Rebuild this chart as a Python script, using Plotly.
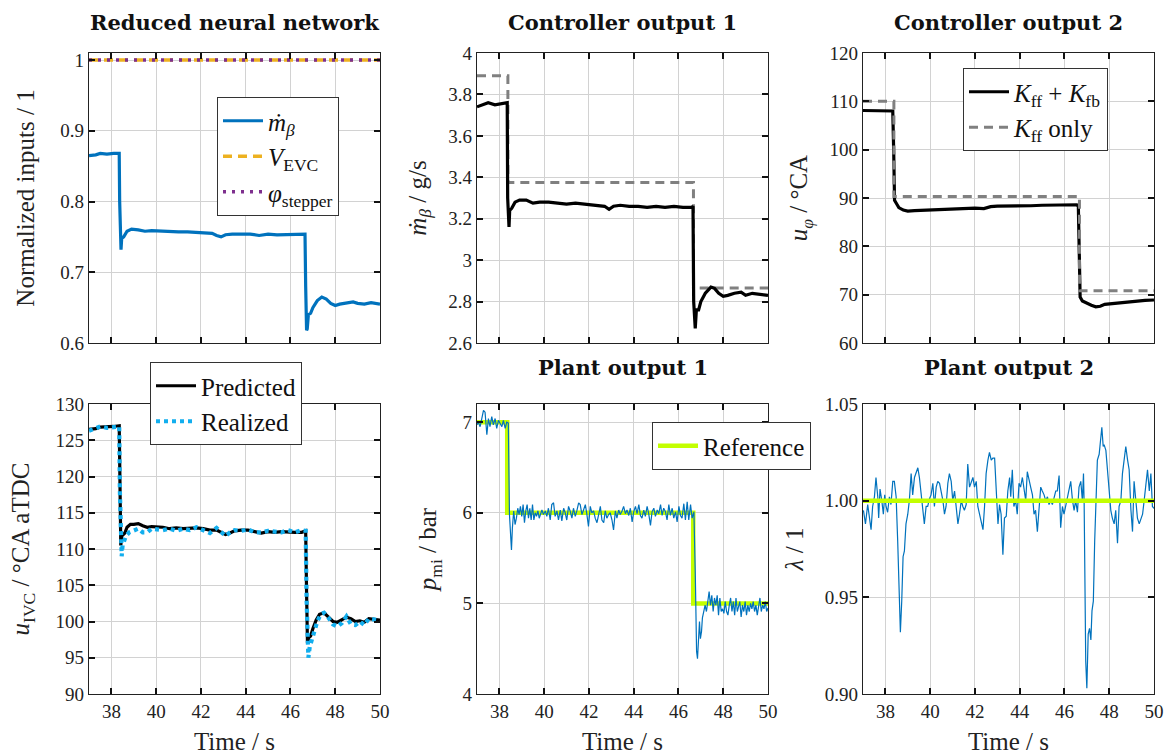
import plotly.graph_objects as go

FONT = "Liberation Serif"
TFONT = "DejaVu Serif"
W, H = 1169, 755

# ---------------- data ----------------
# Panel 1: normalized inputs of the reduced neural network
mb_norm_t = [37.0, 37.3, 37.5, 37.8, 38.1, 38.35, 38.37, 38.40, 38.43, 38.46, 38.55, 38.7, 38.9, 39.2, 39.5,
             39.8, 40.2, 40.6, 41.0, 41.4, 41.8, 42.2, 42.5, 42.7, 42.9, 43.1, 43.4, 43.8, 44.2, 44.6, 45.0,
             45.4, 45.8, 46.2, 46.6, 46.65, 46.68, 46.72, 46.75, 46.8, 46.9, 47.0, 47.2, 47.4, 47.6, 47.8,
             48.0, 48.2, 48.5, 48.8, 49.0, 49.3, 49.6, 50.0]
mb_norm_v = [0.865, 0.866, 0.868, 0.867, 0.868, 0.868, 0.80, 0.735, 0.732, 0.748, 0.750, 0.758, 0.761, 0.760, 0.758,
             0.759, 0.758, 0.757, 0.757, 0.757, 0.756, 0.755, 0.755, 0.752, 0.750, 0.753, 0.754, 0.754, 0.754, 0.752, 0.754,
             0.753, 0.753, 0.753, 0.753, 0.754, 0.68, 0.618, 0.620, 0.640, 0.642, 0.650, 0.660, 0.665, 0.662, 0.656,
             0.653, 0.655, 0.656, 0.658, 0.656, 0.655, 0.657, 0.655]
const_t = [37.0, 50.0]
vevc_v = [1.0, 1.0]
phi_v = [1.0, 1.0]

# Panel 2: controller output 1 (mass flow)
mb_t = [37.0, 37.3, 37.5, 37.8, 38.1, 38.35, 38.37, 38.40, 38.43, 38.46, 38.55, 38.7, 38.9, 39.2, 39.5, 39.8,
        40.2, 40.6, 41.0, 41.4, 41.8, 42.2, 42.5, 42.7, 42.9, 43.1, 43.4, 43.8, 44.2, 44.6, 45.0, 45.4, 45.8,
        46.2, 46.6, 46.65, 46.68, 46.72, 46.75, 46.8, 46.9, 47.0, 47.2, 47.45, 47.6, 47.8, 48.0, 48.2, 48.5,
        48.8, 49.0, 49.3, 49.6, 50.0]
mb_v = [3.74, 3.75, 3.76, 3.75, 3.755, 3.76, 3.30, 3.17, 3.16, 3.24, 3.25, 3.28, 3.29, 3.29, 3.275, 3.28,
        3.28, 3.275, 3.27, 3.275, 3.27, 3.265, 3.265, 3.26, 3.245, 3.26, 3.265, 3.26, 3.26, 3.255, 3.26, 3.255, 3.26,
        3.255, 3.255, 3.26, 2.80, 2.67, 2.67, 2.76, 2.76, 2.80, 2.84, 2.87, 2.865, 2.84, 2.825, 2.83, 2.84,
        2.845, 2.83, 2.84, 2.835, 2.83]
ff_step_t = [37.0, 38.38, 46.67, 50.0]
mb_ff_v = [3.89, 3.375, 2.865, 2.865]

# Panel 3: controller output 2 (phasing)
uphi_t = [37.0, 37.5, 38.0, 38.33, 38.37, 38.41, 38.5, 38.6, 38.8, 39.0, 39.3, 39.8, 40.5, 41.0, 41.5, 42.0,
          42.4, 42.7, 43.0, 43.5, 44.0, 44.5, 45.0, 45.5, 46.0, 46.55, 46.62, 46.66, 46.70, 46.8, 46.95, 47.2,
          47.4, 47.6, 47.8, 48.0, 48.4, 48.8, 49.2, 49.6, 50.0]
uphi_v = [108.1, 108.0, 108.0, 108.0, 100.0, 89.5, 88.8, 88.0, 87.5, 87.3, 87.4, 87.5, 87.6, 87.7, 87.7, 87.9,
          87.8, 88.2, 88.3, 88.3, 88.4, 88.4, 88.5, 88.5, 88.6, 88.6, 88.3, 75.0, 69.5, 68.7, 68.3, 67.8,
          67.5, 67.6, 68.0, 68.1, 68.2, 68.4, 68.6, 68.8, 68.9]
uphi_ff_v = [110.0, 90.3, 70.8, 70.8]

# Panel 4: IVC timing, predicted vs realized
ivc_t = [37.0, 37.3, 37.5, 37.8, 38.1, 38.35, 38.38, 38.42, 38.46, 38.52, 38.6, 38.7, 38.85, 39.0, 39.2, 39.4,
         39.6, 39.8, 40.0, 40.3, 40.6, 40.9, 41.2, 41.5, 41.8, 42.1, 42.4, 42.7, 42.9, 43.1, 43.3, 43.5, 43.8,
         44.1, 44.4, 44.7, 45.0, 45.3, 45.6, 45.9, 46.2, 46.5, 46.68, 46.72, 46.76, 46.82, 46.9, 47.0, 47.15,
         47.3, 47.5, 47.7, 47.9, 48.1, 48.3, 48.5, 48.7, 48.9, 49.1, 49.3, 49.5, 49.7, 50.0]
ivc_pred = [126.5, 126.6, 126.8, 126.8, 126.9, 127.0, 118.0, 110.5, 111.8, 112.0, 112.2, 113.0, 113.4, 113.4, 113.5, 113.2,
            113.0, 113.1, 113.1, 113.0, 112.8, 112.9, 112.8, 112.9, 112.9, 112.8, 112.6, 112.6, 112.3, 112.0, 112.2, 112.5, 112.6,
            112.6, 112.4, 112.2, 112.4, 112.3, 112.4, 112.3, 112.3, 112.3, 112.5, 104.0, 97.0, 97.8, 98.0, 99.0, 100.2,
            101.0, 101.2, 100.6, 100.0, 99.9, 100.2, 100.6, 100.4, 100.0, 100.1, 99.9, 100.4, 100.3, 100.2]
ivc_real_t = [37.0, 37.3, 37.5, 37.8, 38.1, 38.35, 38.38, 38.42, 38.46, 38.5, 38.55, 38.65, 38.8, 39.0, 39.2, 39.4,
              39.6, 39.8, 40.0, 40.3, 40.6, 40.9, 41.2, 41.5, 41.8, 42.1, 42.4, 42.7, 42.9, 43.1, 43.3, 43.5, 43.8,
              44.1, 44.4, 44.7, 45.0, 45.3, 45.6, 45.9, 46.2, 46.5, 46.68, 46.72, 46.76, 46.8, 46.86, 46.95, 47.05,
              47.2, 47.35, 47.5, 47.7, 47.9, 48.1, 48.3, 48.5, 48.7, 48.9, 49.1, 49.3, 49.5, 49.7, 50.0]
ivc_real = [126.3, 126.6, 126.9, 126.7, 126.8, 126.9, 118.0, 109.5, 109.0, 110.5, 111.0, 111.8, 112.3, 112.5, 112.8, 112.3,
            112.3, 112.8, 112.7, 112.6, 112.8, 112.5, 112.8, 112.6, 113.0, 112.6, 112.2, 112.9, 112.4, 111.8, 112.3, 112.6, 112.5,
            112.7, 112.3, 112.3, 112.5, 112.4, 112.3, 112.6, 112.3, 112.6, 112.5, 103.0, 96.0, 95.0, 96.5, 97.5, 98.5,
            100.0, 101.0, 101.2, 100.5, 99.6, 99.3, 99.8, 100.7, 99.6, 99.5, 100.0, 99.5, 100.4, 100.3, 100.1]

# Panel 5: plant output 1 (IMEP)
ref_t = [37.0, 38.35, 46.66, 50.0]
pmi_ref = [7.0, 6.0, 5.0, 5.0]
pmi_t = [37.00, 37.06, 37.14, 37.21, 37.29, 37.36, 37.44, 37.51, 37.58, 37.66, 37.73, 37.81, 37.88, 37.96, 38.03,
         38.11, 38.18, 38.26, 38.33, 38.40,
         38.45, 38.49, 38.54, 38.58, 38.64, 38.70, 38.76, 38.82, 38.88, 38.94, 39.00, 39.06, 39.12, 39.18, 39.24,
         39.30, 39.36, 39.42, 39.48, 39.54, 39.60, 39.66, 39.72, 39.78, 39.84, 39.90,
         39.97, 40.05, 40.12, 40.19, 40.27, 40.34, 40.42, 40.49, 40.57, 40.64, 40.72, 40.79, 40.87, 40.94, 41.01,
         41.09, 41.16, 41.24, 41.31, 41.39, 41.46, 41.54, 41.61, 41.69, 41.76, 41.84, 41.91, 41.98, 42.06, 42.13,
         42.21, 42.28, 42.36, 42.43, 42.51, 42.58, 42.66, 42.73, 42.80, 42.88, 42.95, 43.03, 43.10, 43.18, 43.25,
         43.33, 43.40, 43.48, 43.55,
         43.63, 43.70, 43.78, 43.85, 43.93, 44.00, 44.08, 44.15, 44.23, 44.30, 44.37, 44.45, 44.52, 44.60, 44.67,
         44.75, 44.82, 44.90, 44.97, 45.05, 45.12, 45.20, 45.27, 45.34, 45.42, 45.49, 45.57, 45.64, 45.72, 45.79,
         45.87, 45.94, 46.02, 46.09, 46.16, 46.24, 46.31, 46.39, 46.46, 46.54, 46.61, 46.69,
         46.75, 46.78, 46.81, 46.85, 46.90, 46.94, 46.98, 47.03, 47.07,
         47.13, 47.19, 47.25, 47.31, 47.37, 47.43, 47.49, 47.55, 47.61, 47.67, 47.73, 47.79, 47.85, 47.91, 47.97,
         48.03, 48.09, 48.15, 48.21, 48.27, 48.33, 48.39, 48.45, 48.51, 48.57, 48.63, 48.69, 48.74, 48.80, 48.86,
         48.92, 48.98, 49.04, 49.10, 49.16, 49.22, 49.28, 49.34, 49.40, 49.46, 49.52, 49.58, 49.64, 49.70, 49.76,
         49.82, 49.88, 49.94, 50.00]
pmi_v = [6.97, 7.00, 6.95, 7.02, 7.13, 7.11, 6.86, 7.04, 6.95, 7.06, 6.97, 7.04, 6.93, 7.02, 6.99,
         6.95, 7.02, 6.93, 7.00, 6.99,
         5.98, 5.78, 5.59, 5.83, 6.02, 5.87, 5.94, 6.05, 5.98, 6.07, 5.96, 6.09, 5.89, 6.02, 6.09,
         5.94, 6.05, 5.92, 6.09, 5.92, 6.00, 5.96, 6.02, 5.94, 6.00, 6.03,
         5.98, 6.02, 5.96, 6.05, 5.92, 6.09, 6.11, 5.96, 6.02, 5.92, 6.03, 5.91, 6.05, 6.00, 5.92,
         6.07, 6.02, 5.94, 6.05, 5.96, 6.02, 6.11, 6.09, 5.98, 6.03, 6.09, 5.98, 5.85, 6.07, 6.00,
         6.02, 5.94, 5.89, 5.98, 6.07, 5.92, 5.89, 6.02, 5.94, 5.98, 6.00, 5.92, 5.81, 6.02, 5.94,
         6.03, 5.98, 6.02, 6.07,
         5.99, 6.03, 5.97, 6.05, 5.90, 6.01, 6.07, 5.99, 6.09, 5.97, 5.94, 6.03, 5.96, 6.07, 5.99,
         5.86, 6.01, 6.05, 5.96, 6.03, 5.99, 6.09, 5.97, 6.05, 6.01, 5.92, 6.09, 5.97, 6.05, 5.94,
         6.01, 5.90, 6.07, 5.97, 5.94, 6.10, 5.92, 6.12, 5.92, 6.09, 5.94, 6.01,
         5.35, 4.61, 4.47, 4.39, 4.69, 4.80, 4.61, 4.69, 4.84,
         4.91, 4.98, 4.91, 5.06, 5.13, 4.98, 5.09, 4.91, 5.06, 4.98, 5.09, 4.87, 5.06, 4.91, 4.94,
         4.89, 5.02, 4.91, 4.87, 4.98, 5.06, 4.91, 5.02, 4.87, 5.06, 4.91, 4.98, 5.02, 4.85, 4.98,
         4.91, 5.02, 4.87, 4.98, 4.91, 5.00, 4.94, 5.02, 4.91, 4.98, 4.87, 5.00, 5.06, 4.91, 4.98,
         4.94, 5.02, 4.91, 4.95]

# Panel 6: plant output 2 (lambda)
lam_ref = [1.0, 1.0]
lam_t = [37.02, 37.11, 37.21, 37.28, 37.36, 37.43, 37.51, 37.58, 37.66, 37.70, 37.76, 37.84, 37.91, 37.97, 38.03,
         38.10, 38.18, 38.25, 38.33, 38.40, 38.48, 38.55, 38.60, 38.64, 38.67, 38.73, 38.79, 38.85, 38.92, 39.00,
         39.07, 39.15, 39.22, 39.30, 39.37, 39.45, 39.52, 39.60, 39.67, 39.74, 39.82, 39.89, 39.97,
         40.04, 40.12, 40.19, 40.27, 40.34, 40.42, 40.49, 40.57, 40.64, 40.71, 40.79, 40.86, 40.94,
         41.01, 41.09, 41.16, 41.24, 41.31, 41.39, 41.46, 41.53, 41.61, 41.68, 41.76, 41.83, 41.91, 41.98,
         42.06, 42.13, 42.21, 42.28, 42.36, 42.43, 42.50, 42.58, 42.65, 42.73, 42.80, 42.88, 42.95,
         43.03, 43.10, 43.17, 43.25, 43.32, 43.40, 43.47, 43.55,
         43.60, 43.67, 43.74, 43.82, 43.89, 43.97,
         44.04, 44.12, 44.19, 44.27, 44.34, 44.42, 44.49, 44.57, 44.64, 44.71, 44.79, 44.86, 44.94,
         45.01, 45.09, 45.16, 45.24, 45.31, 45.39, 45.46, 45.53, 45.61, 45.68, 45.76, 45.83, 45.91, 45.98,
         46.06, 46.13, 46.21, 46.28, 46.36, 46.43, 46.50, 46.58, 46.65, 46.73, 46.80,
         46.85, 46.88, 46.91, 46.95,
         47.00, 47.06, 47.12, 47.18, 47.23, 47.29, 47.35, 47.41, 47.47, 47.55, 47.62, 47.67, 47.73, 47.77, 47.85,
         47.92, 47.99,
         48.07, 48.14, 48.22, 48.29, 48.37, 48.44, 48.52, 48.59, 48.67, 48.74, 48.82, 48.89, 48.97,
         49.04, 49.11, 49.19, 49.26, 49.34, 49.41, 49.49, 49.56, 49.64, 49.71, 49.79, 49.86, 49.93, 50.00]
lam_v = [0.995, 0.988, 0.998, 0.993, 0.985, 0.997, 1.002, 1.012, 1.002, 0.991, 1.006, 1.000, 0.993, 1.003, 0.997,
         0.994, 1.002, 0.998, 1.010, 1.010, 1.002, 0.979, 0.959, 0.940, 0.932, 0.948, 0.971, 0.974, 0.988, 0.993,
         1.000, 1.014, 1.003, 1.012, 1.015, 1.017, 1.012, 1.003, 0.995, 0.988, 0.997, 0.997, 1.001,
         1.003, 1.009, 0.997, 1.007, 1.010, 1.009, 1.005, 1.000, 0.993, 0.997, 1.009, 1.014, 1.010,
         1.000, 1.005, 0.995, 0.988, 0.993, 1.000, 0.997, 0.995, 0.998, 1.019, 1.007, 1.010, 1.012, 1.007,
         1.010, 0.997, 0.993, 0.988, 0.985, 0.997, 1.014, 1.021, 1.025, 1.021, 1.022, 1.022, 1.005,
         0.988, 0.998, 0.993, 0.972, 0.991, 0.992, 1.005, 1.012,
         1.002, 1.016, 0.997, 1.000, 0.993, 1.009,
         1.007, 1.012, 1.005, 1.000, 1.015, 1.010, 1.007, 1.003, 0.993, 0.995, 0.984, 0.995, 1.007,
         1.005, 1.003, 1.000, 1.002, 0.998, 1.000, 0.998, 1.002, 1.005, 1.005, 1.013, 0.986, 0.997, 0.993,
         0.998, 1.002, 1.007, 1.010, 1.000, 0.995, 1.000, 0.994, 1.007, 1.010, 1.000,
         1.014, 0.998, 0.948, 0.917,
         0.903, 0.931, 0.934, 0.928, 0.943, 0.948, 0.979, 1.000, 1.021, 1.024, 1.034, 1.038, 1.028, 1.029, 1.026,
         1.017, 1.009,
         0.995, 0.991, 0.988, 0.995, 0.978, 0.997, 1.000, 1.014, 1.021, 1.028, 1.021, 1.016, 0.995,
         0.984, 1.010, 1.000, 0.991, 0.988, 0.991, 0.993, 1.000, 1.007, 1.016, 1.005, 1.014, 0.997, 0.996]

x_ticks = [38, 40, 42, 44, 46, 48, 50]
titles = ["Reduced neural network", "Controller output 1", "Controller output 2",
          "", "Plant output 1", "Plant output 2"]

# ---------------- styling ----------------
BLUE = "#0072BD"
ORANGE = "#EDB120"
PURPLE = "#7E2F8E"
GRAY = "#808080"
CYAN = "#12AEEE"
LIME = "#C3FF00"

fig = go.Figure()


def add(x, y, n, **kw):
    s = "" if n == 1 else str(n)
    fig.add_trace(go.Scatter(x=x, y=y, mode="lines", xaxis="x" + s, yaxis="y" + s, **kw))


# panel 1
add(mb_norm_t, mb_norm_v, 1, name="<i>ṁ</i><sub><i>β</i></sub>", line=dict(color=BLUE, width=3.2), legend="legend")
add(const_t, vevc_v, 1, name="<i>V</i><sub>EVC</sub>", line=dict(color=ORANGE, width=3.5, dash="9px,6px"), legend="legend")
add(const_t, phi_v, 1, name="<i>φ</i><sub>stepper</sub>", line=dict(color=PURPLE, width=3.5, dash="3px,6px"), legend="legend")
# panel 2
add(ff_step_t, mb_ff_v, 2, showlegend=False, line=dict(color=GRAY, width=3, dash="9px,6px", shape="hv"))
add(mb_t, mb_v, 2, showlegend=False, line=dict(color="black", width=3.2))
# panel 3
add(uphi_t, uphi_v, 3, name="<i>K</i><sub>ff</sub> + <i>K</i><sub>fb</sub>", line=dict(color="black", width=3.2), legend="legend2")
add(ff_step_t, uphi_ff_v, 3, name="<i>K</i><sub>ff</sub> only", line=dict(color=GRAY, width=3, dash="9px,6px", shape="hv"), legend="legend2")
# panel 4
add(ivc_t, ivc_pred, 4, name="Predicted", line=dict(color="black", width=3.2), legend="legend3")
add(ivc_real_t, ivc_real, 4, name="Realized", line=dict(color=CYAN, width=4.2, dash="4px,4px"), legend="legend3")
# panel 5
add(ref_t, pmi_ref, 5, name="Reference", line=dict(color=LIME, width=4.5, shape="hv"), legend="legend4")
add(pmi_t, pmi_v, 5, showlegend=False, line=dict(color=BLUE, width=1.2))
# panel 6
add(lam_t, lam_v, 6, showlegend=False, line=dict(color=BLUE, width=1.2))
add(const_t, lam_ref, 6, showlegend=False, line=dict(color=LIME, width=4.5))

cols = [(89, 380), (477, 768), (863, 1154)]
rows = [(53, 343), (404, 694)]
yspecs = [
    dict(range=[0.6, 1.01], tickvals=[0.6, 0.7, 0.8, 0.9, 1.0], ticktext=["0.6", "0.7", "0.8", "0.9", "1"],
         title="Normalized inputs / 1", standoff=18),
    dict(range=[2.6, 4.0], tickvals=[2.6, 2.8, 3.0, 3.2, 3.4, 3.6, 3.8, 4.0],
         ticktext=["2.6", "2.8", "3", "3.2", "3.4", "3.6", "3.8", "4"],
         title="<i>ṁ</i><sub><i>β</i></sub> / g/s", standoff=14),
    dict(range=[60, 120], tickvals=[60, 70, 80, 90, 100, 110, 120], ticktext=None,
         title="<i>u</i><sub><i>φ</i></sub> / °CA", standoff=14),
    dict(range=[90, 130], tickvals=[90, 95, 100, 105, 110, 115, 120, 125, 130], ticktext=None,
         title="<i>u</i><sub>IVC</sub> / °CA aTDC", standoff=18),
    dict(range=[4, 7.2], tickvals=[4, 5, 6, 7], ticktext=None,
         title="<i>p</i><sub>mi</sub> / bar", standoff=18),
    dict(range=[0.9, 1.05], tickvals=[0.9, 0.95, 1.0, 1.05], ticktext=["0.90", "0.95", "1.00", "1.05"],
         title="<i>λ</i> / 1", standoff=14),
]

axcommon = dict(showline=True, linecolor="#222", linewidth=1.3, mirror="ticks", ticks="inside", ticklen=6,
                tickwidth=1.6, tickcolor="#111", showgrid=True, gridcolor="#d2d2d2", gridwidth=1,
                zeroline=False, automargin=False,
                tickfont=dict(family=FONT, size=19, color="#222"))

layout = dict(width=W, height=H, margin=dict(l=0, r=0, t=0, b=0), template="none",
              paper_bgcolor="white", plot_bgcolor="white", showlegend=True,
              font=dict(family=FONT, color="#222"))
ann = []
for n in range(1, 7):
    r = (n - 1) // 3
    c = (n - 1) % 3
    s = "" if n == 1 else str(n)
    x0, x1 = cols[c]
    y0, y1 = rows[r]
    xa = dict(axcommon, domain=[x0 / W, x1 / W], range=[37, 50], tickvals=x_ticks, anchor="y" + s,
              showticklabels=(r == 1))
    if r == 1:
        xa["title"] = dict(text="Time / s", font=dict(family=FONT, size=25, color="#222"), standoff=12)
    sp = yspecs[n - 1]
    ya = dict(axcommon, domain=[1 - y1 / H, 1 - y0 / H], range=sp["range"], tickvals=sp["tickvals"],
              anchor="x" + s,
              title=dict(text=sp["title"], font=dict(family=FONT, size=25, color="#222"), standoff=sp["standoff"]))
    if sp["ticktext"] is not None:
        ya["ticktext"] = sp["ticktext"]
    layout["xaxis" + s] = xa
    layout["yaxis" + s] = ya
    if titles[n - 1]:
        ty = 22 if r == 0 else 368
        ann.append(dict(text="<b>" + titles[n - 1] + "</b>", x=(x0 + x1) / 2 / W, y=1 - ty / H,
                        xref="paper", yref="paper", showarrow=False, xanchor="center", yanchor="middle",
                        font=dict(family=TFONT, size=21, color="#111")))
layout["annotations"] = ann

legbase = dict(xanchor="left", yanchor="top", bgcolor="white", bordercolor="#333", borderwidth=1,
               font=dict(family=FONT, size=25, color="#111"), tracegroupgap=0, itemwidth=40)
layout["legend"] = dict(legbase, x=217 / W, y=1 - 97 / H)
layout["legend2"] = dict(legbase, x=963 / W, y=1 - 68 / H)
layout["legend3"] = dict(legbase, x=150 / W, y=1 - 362 / H)
layout["legend4"] = dict(legbase, x=652 / W, y=1 - 422 / H)

fig.update_layout(**layout)
fig.write_html("out.html")
